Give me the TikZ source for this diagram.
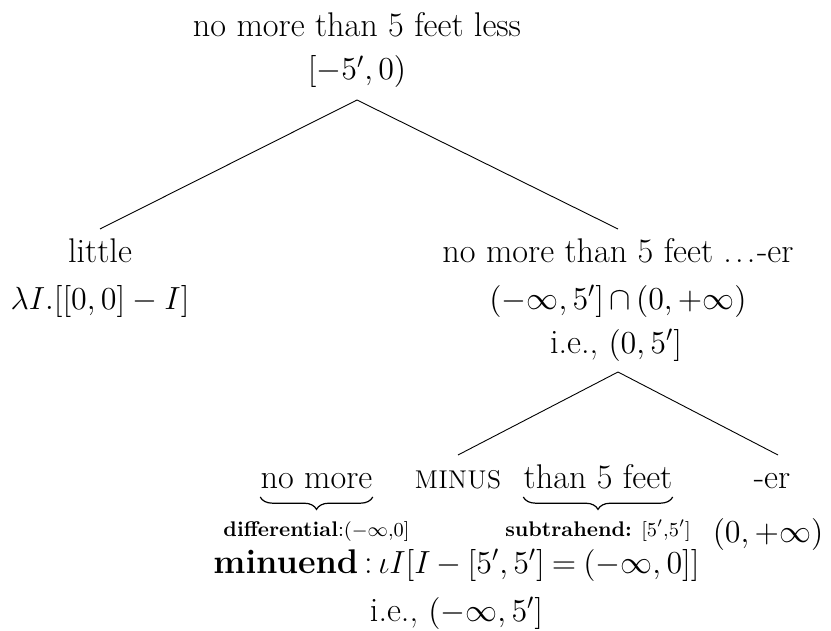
\RequirePackage{fix-cm}
\documentclass[tikz,border=0pt]{standalone}
\usepackage{amsmath}
\usepackage{fontspec}
\setmainfont{Latin Modern Roman}[Scale=1.07]
\usetikzlibrary{decorations.pathreplacing}
\begin{document}
\begin{tikzpicture}[x=0.5pt,y=-0.5pt,
  lab/.style={anchor=base,inner sep=0pt,font=\fontsize{16}{19}\selectfont},
  sm/.style={anchor=base,inner sep=0pt,font=\fontsize{9.9}{11}\selectfont},
  edge/.style={line width=0.45pt},
  ubrace/.style={decorate,decoration={brace,mirror,amplitude=6.2pt},line width=0.6pt}]
\useasboundingbox (0,0) rectangle (831,631);
% root
\node[lab] (t1) at (357,37) {no more than 5 feet less};
\node[lab] (t2) at (357,80) {$[-5',0)$};
\coordinate (a1) at (357,100);
% level 1
\coordinate (l1top) at (100,229);
\coordinate (r1top) at (618,229);
\node[lab] (l1) at (100,263) {little};
\node[lab] (l2) at (100,309) {$\lambda I.[[0,0]-I]$};
\node[lab] (r1) at (618,263) {no more than 5 feet .\kern1.6pt.\kern1.6pt.\kern0.8pt-er};
\node[lab] (r2) at (618,309) {$\medmuskip=3mu(-\infty,5']\cap(0,+\infty)$};
\node[lab] (r3) at (616,353) {i.e., $(0,5']$};
\coordinate (a2) at (618,372);
% level 2
\coordinate (m1top) at (458,455);
\coordinate (e1top) at (778,455);
\node[lab] (nm) at (316.5,488) {no more};
\node[lab] (mi) at (458,488) {{\fontsize{12}{14}\selectfont M\kern0.3pt I\kern0.3pt N\kern0.3pt U\kern0.3pt S}};
\node[lab] (tf) at (598,488) {than 5 feet};
\node[lab] (er) at (772,488) {-er};
\draw[ubrace] ([yshift=-4.5pt]nm.base west) -- ([yshift=-4.5pt]nm.base east);
\draw[ubrace] ([yshift=-4.5pt]tf.base west) -- ([yshift=-4.5pt]tf.base east);
\node[sm] (df) at (316.5,536) {\textbf{differential}:$(-\infty{,}0]$};
\node[sm] (sb) at (598,536) {\textbf{subtrahend:} $[5'{,}5']$};
\node[lab] (ei) at (768,542) {$(0,+\infty)$};
\node[lab] (mu) at (456.5,573) {\textbf{minuend}\,:\,$\medmuskip=3.4mu\thickmuskip=4mu\iota I[I-[5',5']=(-\infty,0]]$};
\node[lab] (ie) at (456.5,621) {i.e., $(-\infty,5']$};
% edges
\draw[edge] (a1) -- (l1top);
\draw[edge] (a1) -- (r1top);
\draw[edge] (a2) -- (m1top);
\draw[edge] (a2) -- (e1top);
\end{tikzpicture}
\end{document}
